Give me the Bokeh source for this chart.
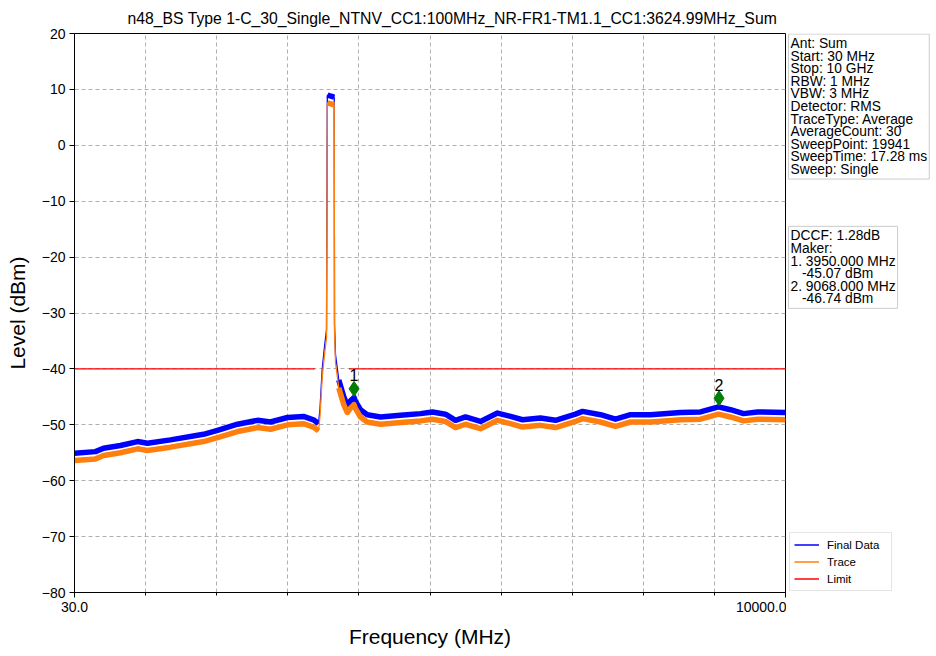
import numpy as np
from bokeh.plotting import figure
from bokeh.layouts import row
from bokeh.models import (Label, Legend, LegendItem, FixedTicker, Range1d,
                          PrintfTickFormatter)
from bokeh.core.properties import value
from bokeh.embed import file_html
from bokeh.resources import INLINE

# ---------------- data ----------------
freq_mhz = [30, 324, 437, 675, 913, 1054, 1376, 1839, 2035, 2316, 2596, 2778,
            3017, 3241, 3381, 3452, 3473, 3504, 3536, 3564, 3575, 3578, 3600,
            3625, 3650, 3672, 3676, 3690, 3736, 3806, 3854, 3900, 3950, 3970,
            4040, 4134, 4321, 4601, 4882, 5050, 5232, 5373, 5513, 5723, 5962,
            6144, 6312, 6564, 6775, 7055, 7154, 7406, 7616, 7827, 8107, 8528,
            8808, 9060, 9229, 9411, 9608, 10000]
final_data = [-55.1, -54.8, -54.2, -53.7, -53.0, -53.3, -52.7, -51.7, -51.0,
              -49.9, -49.2, -49.5, -48.7, -48.5, -49.1, -49.8, -47.0, -40.0,
              -36.0, -33.0, 8.8, 9.0, 8.9, 8.8, 8.7, 8.6, -32.0, -37.5, -42.0,
              -45.0, -46.5, -45.7, -45.1, -45.8, -47.3, -48.2, -48.6, -48.3,
              -48.0, -47.7, -48.1, -49.2, -48.6, -49.4, -47.9, -48.5, -49.1,
              -48.8, -49.2, -48.1, -47.6, -48.2, -49.0, -48.2, -48.2, -47.8,
              -47.7, -46.8, -47.3, -48.0, -47.7, -47.8]
trace = [-56.4, -56.1, -55.5, -55.0, -54.3, -54.6, -54.0, -53.0, -52.3,
         -51.2, -50.5, -50.8, -50.0, -49.8, -50.4, -51.1, -48.4, -41.4,
         -37.4, -34.4, 7.4, 7.6, 7.5, 7.4, 7.3, 7.2, -33.4, -38.9, -43.4,
         -46.4, -47.8, -47.0, -46.4, -47.1, -48.6, -49.5, -49.9, -49.6,
         -49.3, -49.0, -49.4, -50.5, -49.9, -50.7, -49.2, -49.8, -50.4,
         -50.1, -50.5, -49.4, -48.9, -49.5, -50.3, -49.5, -49.5, -49.1,
         -49.0, -48.1, -48.6, -49.3, -49.0, -49.1]
limit_freq = [30, 3400, np.nan, 3880, 10000]
limit_level = [-40, -40, np.nan, -40, -40]
marker_freq = [3950.0, 9068.0]
marker_level = [-45.07, -46.74]
marker_names = ["1", "2"]
y_ticks = [-80, -70, -60, -50, -40, -30, -20, -10, 0, 10, 20]
x_major_ticks = [30.0, 10000.0]
legend_labels = ["Final Data", "Trace", "Limit"]

title_text = "n48_BS Type 1-C_30_Single_NTNV_CC1:100MHz_NR-FR1-TM1.1_CC1:3624.99MHz_Sum"
info_text = ("Ant: Sum\nStart: 30 MHz\nStop: 10 GHz\nRBW: 1 MHz\nVBW: 3 MHz\n"
             "Detector: RMS\nTraceType: Average\nAverageCount: 30\n"
             "SweepPoint: 19941\nSweepTime: 17.28 ms\nSweep: Single")
marker_text = ("DCCF: 1.28dB\nMaker:\n1. 3950.000 MHz\n\u00a0\u00a0\u00a0-45.07 dBm\n"
               "2. 9068.000 MHz\n\u00a0\u00a0\u00a0-46.74 dBm")

FONT = "Liberation Sans"
BLUE = "#0000ff"
ORANGE = "#ff7f0e"
RED = "#ff0000"
GRID = "#b0b0b0"
COLORS = [BLUE, ORANGE, RED]

f = np.array(freq_mhz, dtype=float)
fd = np.array(final_data, dtype=float)
tr = np.array(trace, dtype=float)
noisy = (f <= 3452) | (f >= 3736) | ((f >= 3578) & (f <= 3672))
fd_noisy = np.where(noisy, fd, np.nan)
tr_noisy = np.where(noisy, tr, np.nan)

TOP, FH, BOT = 33, 559, 60
LEFT, FW, RIGHT = 74, 711, 1

p = figure(output_backend="svg", toolbar_location=None,
           frame_width=FW, frame_height=FH,
           min_border_left=LEFT, min_border_right=RIGHT,
           min_border_top=TOP, min_border_bottom=BOT,
           x_range=Range1d(30, 10000), y_range=Range1d(-80, 20),
           title=title_text)
p.background_fill_color = "white"
p.border_fill_color = "white"
p.outline_line_color = "black"
p.outline_line_width = 1

p.title.align = "left"
p.title.offset = 53
p.title.standoff = 14
p.title.text_font = FONT
p.title.text_font_size = "15.75px"
p.title.text_font_style = "normal"
p.title.text_color = "black"

step = (10000 - 30) / 10.0
minor = [30 + step * k for k in range(11)]
p.xaxis.ticker = FixedTicker(ticks=x_major_ticks, minor_ticks=minor)
p.xaxis.formatter = PrintfTickFormatter(format="%.1f")
p.yaxis.ticker = FixedTicker(ticks=y_ticks)
p.yaxis.major_label_overrides = {v: (str(v).replace("-", "\u2212")) for v in y_ticks}
p.xaxis.axis_label = "Frequency (MHz)"
p.yaxis.axis_label = "Level (dBm)"
for ax in (p.xaxis, p.yaxis):
    ax.axis_label_text_font = FONT
    ax.axis_label_text_font_size = "21px"
    ax.axis_label_text_font_style = "normal"
    ax.axis_label_text_color = "black"
    ax.major_label_text_font = FONT
    ax.major_label_text_font_size = "14px"
    ax.major_label_text_color = "black"
    ax.axis_line_color = "black"
    ax.major_tick_line_color = "black"
    ax.minor_tick_line_color = "black"
    ax.major_tick_in = 0
    ax.major_tick_out = 5
    ax.minor_tick_in = 0
    ax.minor_tick_out = 3
    ax.major_label_standoff = 4
    ax.axis_label_standoff = 10
p.yaxis.minor_tick_line_color = None

p.xgrid.grid_line_color = GRID
p.xgrid.grid_line_dash = "4 3"
p.xgrid.minor_grid_line_color = GRID
p.xgrid.minor_grid_line_dash = "4 3"
p.ygrid.grid_line_color = GRID
p.ygrid.grid_line_dash = "4 3"

# traces
p.line(f, fd, line_color=BLUE, line_width=1.3)
p.line(f, fd_noisy, line_color=BLUE, line_width=5.5, line_join="round")
p.line(f, tr, line_color=ORANGE, line_width=1.3)
p.line(f, tr_noisy, line_color=ORANGE, line_width=5.5, line_join="round")
p.line(limit_freq, limit_level, line_color=RED, line_width=1.3)

# markers
p.scatter(marker_freq, [v + 1.5 for v in marker_level], marker="diamond",
          size=15, fill_color="green", line_color="green")
p.text(marker_freq, marker_level, text=marker_names, y_offset=-22,
       text_align="center", text_baseline="middle",
       text_font=value(FONT), text_font_size="16px", text_color="black")

# ---------------- right-hand info panel (frame aligned with main frame) ----
PW = 150
q = figure(output_backend="svg", toolbar_location=None,
           frame_width=PW, frame_height=FH,
           min_border_left=0, min_border_right=0,
           min_border_top=TOP, min_border_bottom=BOT,
           x_range=Range1d(0, PW), y_range=Range1d(-80, 20),
           x_axis_type=None, y_axis_type=None)
q.outline_line_color = None
q.grid.visible = False
q.background_fill_color = "white"
q.border_fill_color = "white"

for txt, top in ((info_text, 19.9), (marker_text, -14.5)):
    lab = Label(x=2, y=top, text=txt, text_color="black",
                text_font=FONT, text_font_size="13.8px", text_line_height=0.84,
                text_align="left", text_baseline="top",
                background_fill_color="white", border_line_color="#cccccc",
                border_line_width=1, padding=2)
    q.add_layout(lab)

items = []
for lbl, col in zip(legend_labels, COLORS):
    # dummy line outside the visible range: only its legend glyph is shown
    r = q.line([-50, -40], [-200, -200], line_color=col, line_width=1.5)
    items.append(LegendItem(label=lbl, renderers=[r]))
legend = Legend(items=items, location=(3, 1))
legend.label_text_font = FONT
legend.label_text_font_size = "11.5px"
legend.label_text_color = "black"
legend.glyph_width = 25
legend.glyph_height = 15
legend.label_height = 15
legend.label_width = 60
legend.spacing = 2
legend.padding = 4
legend.margin = 0
legend.label_standoff = 8
legend.border_line_color = "#cccccc"
legend.background_fill_color = "white"
legend.background_fill_alpha = 1
q.add_layout(legend)

layout = row(p, q, spacing=0)
open("out.html", "w").write(file_html(layout, INLINE))
